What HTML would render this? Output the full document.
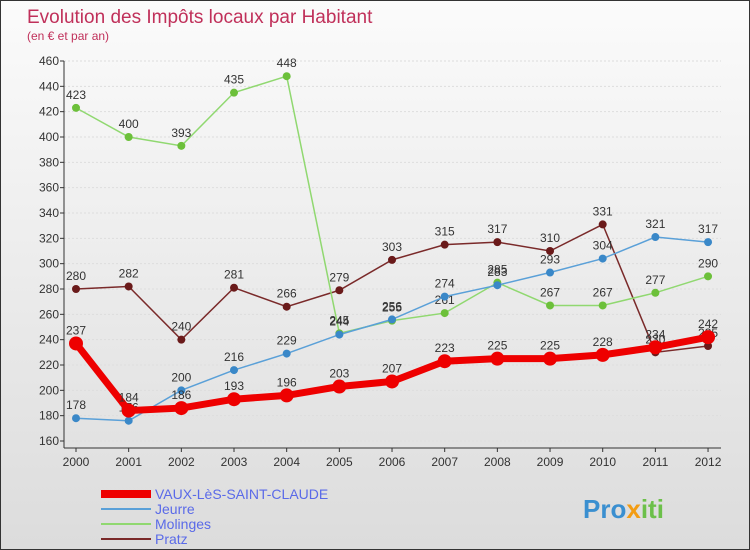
<!DOCTYPE html>
<html><head><meta charset="utf-8"><style>
body{margin:0}
#c{width:748px;height:548px;border:1px solid #333;background:linear-gradient(#fbfbfb,#dcdcdc);position:relative;font-family:"Liberation Sans",sans-serif;overflow:hidden}
svg text{font-family:"Liberation Sans",sans-serif}
</style></head><body>
<div id="c">
<svg id="s" width="748" height="548">
<text x="26" y="22" font-size="19" fill="#c0305a">Evolution des Impôts locaux par Habitant</text>
<text x="26" y="39" font-size="12" fill="#c0305a">(en € et par an)</text>
<g id="grid"></g><g id="axes"></g><g id="series"></g><g id="legend"></g>
<text x="582" y="517" font-size="26" font-weight="bold" fill="#3a8fd0">Pro<tspan fill="#f39c12">x</tspan><tspan fill="#6cc04a">iti</tspan></text>
</svg></div>
<script>
const years=[2000,2001,2002,2003,2004,2005,2006,2007,2008,2009,2010,2011,2012];
const vaux=[237,184,186,193,196,203,207,223,225,225,228,234,242];
const jeurre=[178,176,200,216,229,244,256,274,283,293,304,321,317];
const molinges=[423,400,393,435,448,245,255,261,285,267,267,277,290];
const pratz=[280,282,240,281,266,279,303,315,317,310,331,230,235];
const yTicks=[160,180,200,220,240,260,280,300,320,340,360,380,400,420,440,460];
const NS="http://www.w3.org/2000/svg";
const X=i=>75+i*52.67, Y=v=>440-(v-160)*1.2667;
function mk(t,a,p){const e=document.createElementNS(NS,t);for(const k in a)e.setAttribute(k,a[k]);document.getElementById(p).appendChild(e);return e;}
yTicks.forEach(t=>{
 const g=mk('line',{x1:63,x2:720,y1:Y(t),y2:Y(t),stroke:'#ddd','stroke-dasharray':'2,2'},'grid');
 
 
 const l=mk('text',{x:58,y:Y(t)+4,'font-size':12,fill:'#333','text-anchor':'end'},'axes');l.textContent=t;
 
 
 const tk=mk('line',{x1:59,x2:63,y1:Y(t),y2:Y(t),stroke:'#333'},'axes');
 
 
});
const ya=mk('line',{x1:63,x2:63,y1:Y(460),y2:447,stroke:'#333'},'axes');


const xa=mk('line',{x1:63,x2:720,y1:447,y2:447,stroke:'#333'},'axes');


years.forEach((y,i)=>{
 const l=mk('text',{x:X(i),y:465,'font-size':12,fill:'#333','text-anchor':'middle'},'axes');l.textContent=y;
 
 
 const tk=mk('line',{x1:X(i),x2:X(i),y1:447,y2:451,stroke:'#333'},'axes');
 
 
});
function series(name,vals,color,dot,w,r){
 const p=mk('polyline',{points:vals.map((v,i)=>X(i)+','+Y(v)).join(' '),fill:'none',stroke:color,'stroke-width':w},'series');
 
 
 vals.forEach((v,i)=>{
  const c=mk('circle',{cx:X(i),cy:Y(v),r:r,fill:dot},'series');
  
  
  const t=mk('text',{x:X(i),y:Y(v)-9,'font-size':12,fill:'#333','text-anchor':'middle'},'series');t.textContent=v;
  
  
 });
}
series('pratz',pratz,'#7a2a2a','#6a1a1a',1.5,4);
series('molinges',molinges,'#90d870','#6cc03a',1.5,4);
series('jeurre',jeurre,'#5aa0d8','#3a88c8',1.5,4);
series('vaux',vaux,'#ee0000','#ee0000',7,7);
const leg=[['VAUX-LèS-SAINT-CLAUDE','#ee0000',8,493],['Jeurre','#5aa0d8',2,508],['Molinges','#90d870',2,523],['Pratz','#7a2a2a',2,538]];
leg.forEach(l=>{
 const ln=mk('line',{x1:100,x2:150,y1:l[3],y2:l[3],stroke:l[1],'stroke-width':l[2]},'legend');
 
 
 const t=mk('text',{x:154,y:l[3]+5,'font-size':14,fill:'#5a6ae8'},'legend');t.textContent=l[0];
 
 
});
</script>
</body></html>
